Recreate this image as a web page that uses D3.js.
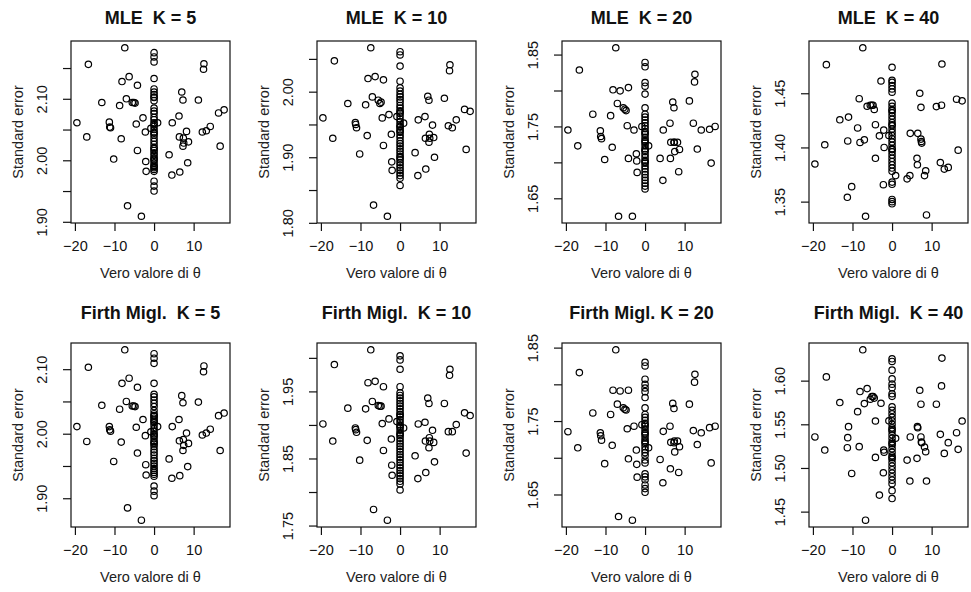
<!DOCTYPE html>
<html>
<head>
<meta charset="utf-8">
<script src="https://cdn.jsdelivr.net/npm/d3@7"></script>
<style>
    body { margin: 0; background: #fff; }
    svg { font-family: "Liberation Sans", Arial, sans-serif; }
</style>
</head>
<body>
<svg id="chart"></svg>
<script>
// true theta values of the points that are not at 0 (same for every panel)
const thetaOff = [-19.5, -17.0, -16.6, -13.2, -11.3, -11.2, -11.0, -10.2, -8.7, -8.3,
    -8.1, -7.4, -7.0, -6.7, -6.3, -5.5, -5.1, -4.8, -4.5, -4.2,
    -4.2, -3.2, -2.8, -2.2, -2.1, -2.0, 0.9, 3.8, 4.5, 4.6,
    6.3, 6.4, 6.5, 7.0, 7.3, 7.3, 7.4, 7.5, 8.2, 8.5,
    8.7, 11.2, 12.2, 12.5, 12.6, 13.2, 14.2, 16.3, 16.7, 17.7, -0.8];

// standard errors for thetaOff, one array per panel
const seMle5 = [2.061, 2.038, 2.156, 2.094, 2.062, 2.054, 2.053, 2.002, 2.089, 2.035,
    2.128, 2.183, 2.100, 1.926, 2.136, 2.094, 2.094, 2.093, 2.059, 2.122,
    2.016, 1.909, 2.069, 2.046, 1.998, 1.982, 2.061, 2.009, 1.976, 2.061,
    2.072, 2.038, 1.981, 2.111, 2.098, 2.023, 2.036, 2.028, 2.047, 1.996,
    2.030, 2.098, 2.046, 2.148, 2.157, 2.048, 2.055, 2.077, 2.023, 2.082, 2.052];
const seMle10 = [1.960, 1.929, 2.047, 1.982, 1.953, 1.950, 1.945, 1.905, 1.980, 1.933,
    2.020, 2.067, 1.992, 1.827, 2.023, 1.987, 1.982, 1.984, 1.960, 2.018,
    1.918, 1.810, 1.965, 1.935, 1.893, 1.880, 1.952, 1.907, 1.872, 1.957,
    1.962, 1.929, 1.882, 1.993, 1.987, 1.923, 1.935, 1.929, 1.949, 1.930,
    1.900, 1.990, 1.948, 2.032, 2.041, 1.945, 1.957, 1.973, 1.912, 1.970, 1.962];
const seMle20 = [1.745, 1.723, 1.8285, 1.767, 1.744, 1.736, 1.733, 1.704, 1.765, 1.721,
    1.801, 1.8595, 1.782, 1.625, 1.7995, 1.776, 1.774, 1.772, 1.751, 1.804,
    1.7055, 1.625, 1.745, 1.712, 1.702, 1.686, 1.723, 1.7055, 1.675, 1.745,
    1.7545, 1.7055, 1.728, 1.784, 1.776, 1.728, 1.728, 1.715, 1.728, 1.687,
    1.718, 1.7855, 1.7545, 1.812, 1.8225, 1.7185, 1.745, 1.746, 1.699, 1.750, 1.750];
const seMle40 = [1.3847, 1.4025, 1.4764, 1.4255, 1.354, 1.406, 1.428, 1.3638, 1.418, 1.445,
    1.4046, 1.492, 1.407, 1.3365, 1.438, 1.439, 1.439, 1.439, 1.435, 1.421,
    1.390, 1.4107, 1.4613, 1.3656, 1.416, 1.400, 1.374, 1.371, 1.374, 1.413,
    1.390, 1.384, 1.413, 1.450, 1.437, 1.4077, 1.4055, 1.404, 1.374, 1.3785,
    1.3377, 1.4377, 1.386, 1.439, 1.477, 1.380, 1.3816, 1.4445, 1.3975, 1.443, 1.411];
const seFirth5 = [2.011, 1.988, 2.103, 2.044, 2.011, 2.006, 2.004, 1.957, 2.038, 1.987,
    2.078, 2.130, 2.050, 1.885, 2.086, 2.043, 2.043, 2.042, 2.010, 2.072,
    1.970, 1.866, 2.022, 1.997, 1.952, 1.936, 2.011, 1.961, 1.931, 2.011,
    2.022, 1.989, 1.935, 2.059, 2.048, 1.974, 1.991, 1.982, 2.001, 1.949,
    1.985, 2.049, 1.998, 2.096, 2.105, 2.001, 2.007, 2.028, 1.974, 2.032, 2.003];
const seFirth10 = [1.9015, 1.876, 1.990, 1.925, 1.8955, 1.893, 1.889, 1.8475, 1.924, 1.877,
    1.963, 2.012, 1.935, 1.774, 1.965, 1.929, 1.928, 1.928, 1.902, 1.957,
    1.862, 1.758, 1.909, 1.879, 1.840, 1.825, 1.8955, 1.854, 1.820, 1.9015,
    1.904, 1.876, 1.829, 1.940, 1.932, 1.866, 1.881, 1.876, 1.892, 1.874,
    1.845, 1.932, 1.890, 1.974, 1.983, 1.890, 1.9005, 1.918, 1.858, 1.914, 1.905];
const seFirth20 = [1.7355, 1.7136, 1.816, 1.761, 1.734, 1.730, 1.724, 1.692, 1.759, 1.717,
    1.792, 1.847, 1.773, 1.620, 1.791, 1.768, 1.766, 1.765, 1.7395, 1.792,
    1.6986, 1.615, 1.743, 1.7105, 1.691, 1.6736, 1.7136, 1.6977, 1.666, 1.736,
    1.743, 1.685, 1.721, 1.774, 1.767, 1.7205, 1.7227, 1.708, 1.7227, 1.680,
    1.715, 1.773, 1.737, 1.803, 1.8136, 1.718, 1.734, 1.741, 1.693, 1.743, 1.745];
const seFirth40 = [1.5355, 1.5205, 1.6043, 1.5749, 1.5232, 1.5347, 1.5473, 1.4937, 1.5645, 1.5244,
    1.5875, 1.6353, 1.5737, 1.4402, 1.5909, 1.5787, 1.5818, 1.5818, 1.580, 1.5538,
    1.5121, 1.4689, 1.5741, 1.4945, 1.5205, 1.518, 1.534, 1.509, 1.485, 1.5355,
    1.511, 1.5473, 1.5460, 1.589, 1.573, 1.5355, 1.5297, 1.529, 1.524, 1.5186,
    1.485, 1.573, 1.5385, 1.594, 1.6258, 1.5167, 1.529, 1.5404, 1.5213, 1.5538, 1.554];

// standard errors of the points with theta = 0
const zeroMle5 = [2.175, 2.168, 2.160, 2.133, 2.116, 2.111, 2.107, 2.103, 2.102, 2.097,
    2.085, 2.080, 2.076, 2.070, 2.066, 2.061, 2.058, 2.055, 2.050, 2.046,
    2.044, 2.041, 2.036, 2.031, 2.026, 2.021, 2.019, 2.016, 2.012, 2.008,
    2.004, 2.002, 2.000, 1.996, 1.992, 1.990, 1.988, 1.985, 1.982, 1.966,
    1.958, 1.950];
const zeroMle10 = [2.061, 2.056, 2.039, 2.016, 2.006, 2.001, 1.996, 1.992, 1.988, 1.984,
    1.979, 1.975, 1.971, 1.969, 1.967, 1.963, 1.958, 1.954, 1.950, 1.947,
    1.946, 1.942, 1.940, 1.938, 1.934, 1.930, 1.925, 1.921, 1.917, 1.913,
    1.909, 1.905, 1.901, 1.899, 1.896, 1.892, 1.888, 1.884, 1.880, 1.876,
    1.872, 1.868, 1.857];
const zeroMle20 = [1.839, 1.833, 1.811, 1.806, 1.795, 1.776, 1.767, 1.763, 1.759, 1.755,
    1.751, 1.747, 1.743, 1.741, 1.739, 1.735, 1.731, 1.729, 1.727, 1.723,
    1.719, 1.717, 1.715, 1.711, 1.707, 1.703, 1.701, 1.699, 1.695, 1.691,
    1.687, 1.683, 1.679, 1.675, 1.671, 1.667, 1.663];
const zeroMle40 = [1.474, 1.462, 1.460, 1.457, 1.454, 1.451, 1.441, 1.438, 1.435, 1.434,
    1.432, 1.429, 1.426, 1.423, 1.421, 1.420, 1.417, 1.414, 1.411, 1.408,
    1.405, 1.402, 1.399, 1.398, 1.396, 1.393, 1.390, 1.387, 1.384, 1.381,
    1.378, 1.368, 1.366, 1.352, 1.350, 1.348];
const zeroFirth5 = [2.124, 2.117, 2.109, 2.078, 2.061, 2.057, 2.052, 2.047, 2.042, 2.036,
    2.031, 2.028, 2.027, 2.024, 2.021, 2.019, 2.017, 2.013, 2.008, 2.004,
    2.000, 1.998, 1.996, 1.992, 1.988, 1.986, 1.984, 1.980, 1.975, 1.971,
    1.967, 1.962, 1.958, 1.954, 1.950, 1.946, 1.943, 1.940, 1.937, 1.934,
    1.919, 1.911, 1.904];
const zeroFirth10 = [2.003, 1.997, 1.983, 1.957, 1.948, 1.944, 1.940, 1.936, 1.932, 1.928,
    1.924, 1.920, 1.916, 1.915, 1.912, 1.908, 1.904, 1.900, 1.898, 1.896,
    1.892, 1.888, 1.886, 1.884, 1.880, 1.876, 1.872, 1.868, 1.864, 1.860,
    1.856, 1.852, 1.848, 1.844, 1.840, 1.836, 1.832, 1.828, 1.824, 1.820,
    1.816, 1.812, 1.803];
const zeroFirth20 = [1.830, 1.825, 1.807, 1.800, 1.795, 1.790, 1.782, 1.768, 1.759, 1.755,
    1.751, 1.747, 1.745, 1.743, 1.739, 1.735, 1.733, 1.731, 1.727, 1.723,
    1.721, 1.719, 1.715, 1.711, 1.707, 1.703, 1.697, 1.693, 1.678, 1.674,
    1.670, 1.663, 1.658, 1.653];
const zeroFirth40 = [1.625, 1.622, 1.612, 1.602, 1.596, 1.592, 1.585, 1.582, 1.570, 1.566,
    1.562, 1.558, 1.554, 1.550, 1.546, 1.544, 1.542, 1.538, 1.534, 1.530,
    1.528, 1.526, 1.522, 1.518, 1.514, 1.512, 1.510, 1.506, 1.502, 1.498,
    1.494, 1.490, 1.486, 1.482, 1.474, 1.465];

const titles = ["MLE  K = 5", "MLE  K = 10", "MLE  K = 20", "MLE  K = 40",
    "Firth Migl.  K = 5", "Firth Migl.  K = 10", "Firth Migl. K = 20", "Firth Migl.  K = 40"];
const seOff = [seMle5, seMle10, seMle20, seMle40, seFirth5, seFirth10, seFirth20, seFirth40];
const seZero = [zeroMle5, zeroMle10, zeroMle20, zeroMle40, zeroFirth5, zeroFirth10, zeroFirth20, zeroFirth40];

const width = 971;
const height = 592;
const colLeft = [71, 317, 562, 809];
const boxW = 159;
const rowTop = [41, 343];
const boxH = [182, 184];
const titleY = [24, 319];

const svg = d3.select("#chart")
    .attr("width", width)
    .attr("height", height);

svg.append("rect")
    .attr("width", width)
    .attr("height", height)
    .attr("fill", "#fff");

// R style range: data extent plus 4% on each side
function padded(values) {
    const [lo, hi] = d3.extent(values);
    const p = (hi - lo) * 0.04;
    return [lo - p, hi + p];
}

const xDomain = padded(thetaOff.concat([0]));

titles.forEach((title, i) => {
    const col = i % 4;
    const row = Math.floor(i / 4);
    const w = boxW;
    const h = boxH[row];
    const g = svg.append("g")
        .attr("transform", `translate(${colLeft[col]},${rowTop[row]})`);

    const x = d3.scaleLinear().domain(xDomain).range([0, w]);
    const y = d3.scaleLinear()
        .domain(padded(seOff[i].concat(seZero[i])))
        .range([h, 0]);

    const points = thetaOff.map((t, j) => [t, seOff[i][j]])
        .concat(seZero[i].map(s => [0, s]));

    g.selectAll("circle")
        .data(points)
        .join("circle")
        .attr("cx", d => x(d[0]))
        .attr("cy", d => y(d[1]))
        .attr("r", 3.2)
        .attr("fill", "none")
        .attr("stroke", "#000")
        .attr("stroke-width", 1.2);

    g.append("rect")
        .attr("width", w)
        .attr("height", h)
        .attr("fill", "none")
        .attr("stroke", "#111")
        .attr("stroke-width", 1.2);

    // x axis
    const xa = g.append("g")
        .attr("transform", `translate(0,${h})`)
        .call(d3.axisBottom(x).ticks(5).tickSize(8).tickPadding(10));
    xa.select(".domain").remove();
    xa.attr("font-size", 14.5).attr("font-family", null);
    xa.selectAll("line").attr("stroke", "#111").attr("stroke-width", 1.2);
    xa.selectAll("text").attr("fill", "#111");

    // y axis, labels parallel to the axis
    const ya = g.append("g")
        .call(d3.axisLeft(y).ticks(5).tickSize(8).tickFormat(d3.format(".2f")));
    ya.select(".domain").remove();
    ya.attr("font-size", 14.5).attr("font-family", null);
    ya.selectAll("line").attr("stroke", "#111").attr("stroke-width", 1.2);
    ya.selectAll("text")
        .attr("x", null)
        .attr("dy", null)
        .attr("fill", "#111")
        .attr("text-anchor", "middle")
        .attr("transform", "translate(-24,0) rotate(-90)");

    // drop labels that would overlap, like R does
    let lastPos = null;
    ya.selectAll(".tick").each(function (d) {
        const pos = y(d);
        const txt = d3.select(this).select("text");
        const tw = txt.node().getComputedTextLength() || 28;
        if (lastPos !== null && lastPos - pos < tw + 11) {
            txt.remove();
        } else {
            lastPos = pos;
        }
    });

    g.append("text")
        .attr("x", w / 2)
        .attr("y", h + 55)
        .attr("text-anchor", "middle")
        .attr("font-size", 14.5)
        .attr("fill", "#222")
        .text("Vero valore di θ");

    g.append("text")
        .attr("transform", `translate(-48,${h / 2}) rotate(-90)`)
        .attr("text-anchor", "middle")
        .attr("font-size", 14.5)
        .attr("fill", "#222")
        .text("Standard error");

    svg.append("text")
        .attr("x", colLeft[col] + w / 2)
        .attr("y", titleY[row])
        .attr("text-anchor", "middle")
        .attr("font-size", 18)
        .attr("font-weight", "bold")
        .attr("fill", "#111")
        .style("white-space", "pre")
        .text(title);
});
</script>
</body>
</html>
